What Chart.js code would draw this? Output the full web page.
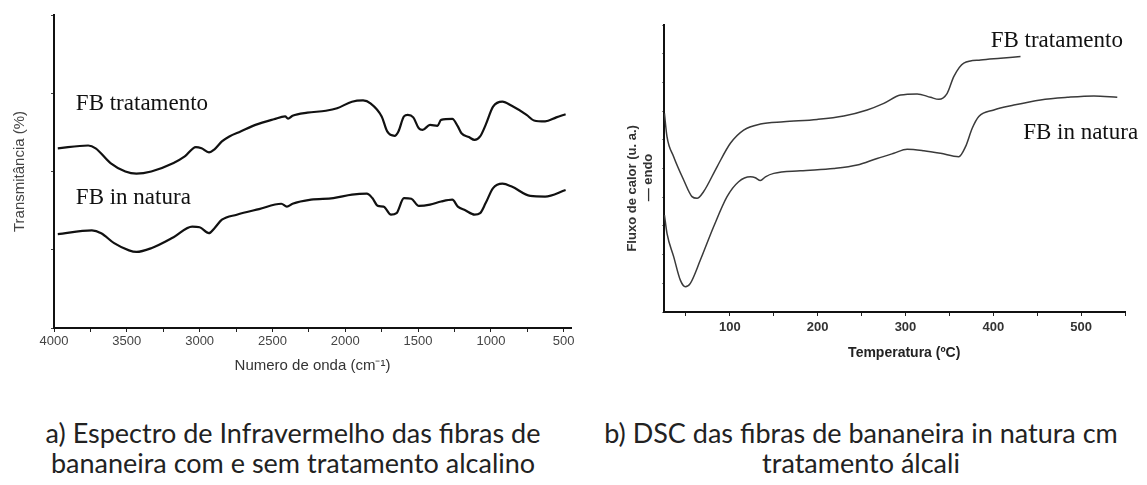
<!DOCTYPE html>
<html>
<head>
<meta charset="utf-8">
<script src="https://cdn.jsdelivr.net/npm/chart.js@4.4.1/dist/chart.umd.min.js"></script>
<style>
  body { margin: 0; background: #fff; width: 1147px; height: 485px; overflow: hidden; position: relative; }
  #irChart { position: absolute; left: 0; top: 0; }
  #dscChart { position: absolute; left: 580px; top: 0; }
  .caption { position: absolute; top: 418px; font-family: Lato, sans-serif; font-size: 27px; line-height: 30px; color: #222; text-align: center; white-space: nowrap; }
</style>
</head>
<body>
<canvas id="irChart" width="580" height="390"></canvas>
<canvas id="dscChart" width="567" height="390"></canvas>
<div class="caption" style="left:0;width:586px">a) Espectro de Infravermelho das fibras de<br>bananeira com e sem tratamento alcalino</div>
<div class="caption" style="left:580px;width:562px">b) DSC das fibras de bananeira in natura cm<br>tratamento álcali</div>

<script>
// IR spectrum - wavenumber (cm-1) vs transmittance (arbitrary units)
let irTrataX = [3974,3765,3714,3612,3510,3434,3332,3179,3102,3026,2987,2936,2898,2847,2796,2719,2617,2490,2413,2393,2362,2260,2133,2056,1954,1878,1827,1750,1712,1661,1635,1597,1571,1533,1495,1469,1418,1367,1342,1265,1227,1202,1151,1112,1074,1036,985,921,857,755,704,628,551,487];
let irTrataY = [57.4,58.3,57.4,52.7,50.0,49.3,50.0,52.7,54.8,57.8,57.4,56.1,57.1,59.6,61.2,62.8,64.9,66.7,67.6,66.9,67.8,68.8,69.4,70.2,72.3,72.7,71.8,67.6,62.8,61.4,62.8,67.6,68.1,67.3,63.8,63.3,64.9,64.6,66.5,66.8,64.4,62.2,61.0,60.1,61.2,64.9,70.7,72.3,71.0,68.1,66.3,66.0,67.3,68.3];
let irNaturaX = [3974,3740,3676,3587,3485,3434,3332,3179,3051,3000,2936,2898,2847,2745,2592,2439,2401,2362,2235,2082,1954,1852,1814,1776,1737,1686,1648,1597,1546,1495,1418,1342,1265,1227,1176,1112,1074,1036,985,921,857,730,628,487];
let irNaturaY = [30.0,31.2,30.3,27.1,24.8,24.3,25.5,29.0,32.4,32.2,30.3,31.9,34.6,36.2,38.0,39.7,38.8,39.7,41.0,41.5,42.6,42.9,41.5,39.0,38.8,36.2,36.7,41.5,41.3,39.0,39.4,40.4,41.0,38.8,37.6,36.2,36.7,39.9,44.7,46.1,45.2,42.2,42.0,44.1];
let irTickValues = [4000,3750,3500,3250,3000,2750,2500,2250,2000,1750,1500,1250,1000,750,500];

// DSC - temperature (ºC) vs heat flow (arbitrary units)
let dscTrataX = [25.5,28.4,36,47.4,56.9,62.6,70,85.4,100.6,115.7,134.8,161.3,199.4,229.7,256.3,275.3,294.3,313.3,328.5,338,347.5,355,366.4,385.5,408.3,431];
let dscTrataY = [69.2,61.1,54.1,46,40.2,39.6,41.9,50.6,58.8,63.4,65.5,66.3,67.1,68.3,70.4,72.7,75.6,76,74.8,74.1,76.2,82,86.7,87.8,88.4,89];
let dscNaturaX = [25.5,28.4,36,43.6,49.3,55,66.4,81.5,96.8,110,123.4,129,134.8,140.5,150,180.3,218.3,245,267.7,286.7,301.9,320.9,339.9,360.7,368.4,376,383.5,400.6,423.4,453.8,484.3,514.6,541.2];
let dscNaturaY = [33.8,27.4,19.3,11.1,8.8,10,18.1,29.7,40.2,45.4,47.1,46.8,45.8,47.1,48.3,49.2,50,51.2,53.5,55.3,56.7,56.2,55.3,54.1,57.6,64,68.1,70.4,72.1,73.9,74.8,75.3,74.8];
let dscTickValues = [50,100,150,200,250,300,350,400,450,500,550];

let seriesNames = ["FB tratamento", "FB in natura"];

function toPoints(xs, ys) {
  return xs.map((x, i) => ({x: x, y: ys[i]}));
}

// draws the curve names at data coordinates
let curveLabels = {
  id: "curveLabels",
  afterDatasetsDraw(chart, args, opts) {
    let ctx = chart.ctx;
    ctx.save();
    ctx.font = '23px "Liberation Serif", "Times New Roman", serif';
    ctx.fillStyle = "#111";
    ctx.textBaseline = "middle";
    opts.items.forEach(item => {
      ctx.fillText(item.text, chart.scales.x.getPixelForValue(item.x), chart.scales.y.getPixelForValue(item.y));
    });
    ctx.restore();
  }
};

function lineDataset(label, pts, color, width) {
  return {
    label: label, data: pts, borderColor: color, borderWidth: width,
    pointRadius: 0, fill: false, cubicInterpolationMode: "monotone"
  };
}

// IR chart
new Chart(document.getElementById("irChart"), {
  type: "line",
  data: {
    datasets: [
      lineDataset(seriesNames[0], toPoints(irTrataX, irTrataY), "#111", 2.2),
      lineDataset(seriesNames[1], toPoints(irNaturaX, irNaturaY), "#111", 2.2)
    ]
  },
  options: {
    responsive: false, animation: false,
    layout: {padding: {left: 0, right: 9, top: 15, bottom: 0}},
    plugins: {
      legend: {display: false}, tooltip: {enabled: false},
      curveLabels: {items: [
        {text: seriesNames[0], x: 3850, y: 71.7},
        {text: seriesNames[1], x: 3850, y: 41.4}
      ]}
    },
    scales: {
      x: {
        type: "linear", reverse: true, min: 450, max: 4000,
        afterBuildTicks: s => { s.ticks = irTickValues.map(v => ({value: v})); },
        afterFit: s => { s.height = 62; s.paddingLeft = 0; s.paddingRight = 0; },
        ticks: {
          autoSkip: false, maxRotation: 0, padding: 2, color: "#444",
          font: {family: '"Liberation Sans", Arial', size: 13},
          callback: v => (v % 500 === 0 ? String(v) : "")
        },
        grid: {drawOnChartArea: false, drawTicks: true, tickLength: 4, color: "#222"},
        border: {display: true, color: "#111", width: 2},
        title: {display: true, text: "Numero de onda (cm⁻¹)", color: "#333",
          font: {family: '"Liberation Sans", Arial', size: 15}, padding: {top: 0, bottom: 15}}
      },
      y: {
        min: 0, max: 100,
        afterFit: s => { s.width = 54; },
        ticks: {display: false, stepSize: 25},
        grid: {drawOnChartArea: false, drawTicks: true, tickLength: 3, color: "#444"},
        border: {display: true, color: "#111", width: 2},
        title: {display: true, text: "Transmitância (%)", color: "#444",
          font: {family: '"Liberation Sans", Arial', size: 15}, padding: {top: 11, bottom: 0}}
      }
    }
  },
  plugins: [curveLabels]
});

// DSC chart
new Chart(document.getElementById("dscChart"), {
  type: "line",
  data: {
    datasets: [
      lineDataset(seriesNames[0], toPoints(dscTrataX, dscTrataY), "#3a3a3a", 1.5),
      lineDataset(seriesNames[1], toPoints(dscNaturaX, dscNaturaY), "#3a3a3a", 1.5)
    ]
  },
  options: {
    responsive: false, animation: false,
    layout: {padding: {left: 0, right: 22, top: 25, bottom: 0}},
    plugins: {
      legend: {display: false}, tooltip: {enabled: false},
      curveLabels: {items: [
        {text: seriesNames[0], x: 397, y: 94.4},
        {text: seriesNames[1], x: 434, y: 62.4}
      ]}
    },
    scales: {
      x: {
        type: "linear", min: 25, max: 550,
        afterBuildTicks: s => { s.ticks = dscTickValues.map(v => ({value: v})); },
        afterFit: s => { s.height = 78; s.paddingLeft = 0; s.paddingRight = 0; },
        ticks: {
          autoSkip: false, maxRotation: 0, padding: 4, color: "#333",
          font: {family: '"Liberation Sans", Arial', size: 13, weight: "bold"},
          callback: v => (v % 100 === 0 && v < 550 ? String(v) : "")
        },
        grid: {drawOnChartArea: false, drawTicks: true, tickLength: 4, color: "#222"},
        border: {display: true, color: "#111", width: 2},
        // leading spaces nudge the title a bit to the right, like the original
        title: {display: true, text: "     Temperatura (ºC)", color: "#222",
          font: {family: '"Liberation Sans", Arial', size: 14, weight: "bold"}, padding: {top: 0, bottom: 28}}
      },
      y: {
        min: 0, max: 100,
        afterFit: s => { s.width = 84; },
        ticks: {display: false, stepSize: 10},
        grid: {drawOnChartArea: false, drawTicks: true, tickLength: 2, color: "#888"},
        border: {display: true, color: "#111", width: 2},
        // trailing spaces push the rotated title lower
        title: {display: true, text: ["Fluxo de calor (u. a.)           ", "— endo     "], color: "#333",
          font: {family: '"Liberation Sans", Arial', size: 13, weight: "bold"}, padding: {top: 45, bottom: 0}}
      }
    }
  },
  plugins: [curveLabels]
});
</script>
</body>
</html>
